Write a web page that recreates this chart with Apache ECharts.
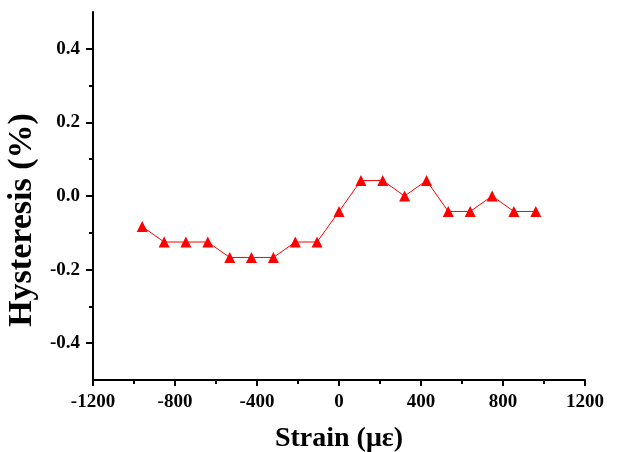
<!DOCTYPE html>
<html>
<head>
<meta charset="utf-8">
<script src="https://cdn.jsdelivr.net/npm/echarts@6/dist/echarts.min.js"></script>
<style>
  html, body { margin: 0; padding: 0; background: #fff; }
  #chart { width: 618px; height: 452px; }
</style>
</head>
<body>
<div id="chart"></div>
<script>
// Strain steps (με) and measured hysteresis (%)
const strain = [-960, -853, -747, -640, -533, -427, -320, -213, -107, 0,
                107, 213, 320, 427, 533, 640, 747, 853, 960];
const hysteresis = [-0.083, -0.125, -0.125, -0.125, -0.167, -0.167, -0.167, -0.125, -0.125, -0.042,
                    0.042, 0.042, 0.0, 0.042, -0.042, -0.042, 0.0, -0.042, -0.042];

const yMajor = [-0.4, -0.2, 0.0, 0.2, 0.4];
const yMinor = [-0.3, -0.1, 0.1, 0.3];
const xMajor = [-1200, -800, -400, 0, 400, 800, 1200];
const xMinor = [-1000, -600, -200, 200, 600, 1000];

const font = '"Liberation Serif", "Times New Roman", serif';
const axisCol = '#000';

const chart = echarts.init(document.getElementById('chart'), null, { renderer: 'canvas' });
chart.setOption({
  animation: false,
  backgroundColor: '#fff',
  grid: { left: 93, right: 33, top: 12, bottom: 72, containLabel: false, outerBoundsMode: 'none' },
  xAxis: [{
    type: 'value', min: -1200, max: 1200, interval: 400,
    name: 'Strain (με)', nameLocation: 'middle', nameGap: 45,
    nameTextStyle: { fontFamily: font, fontWeight: 'bold', fontSize: 28, color: '#000' },
    axisLine: { show: true, onZero: false, lineStyle: { color: axisCol, width: 2 } },
    axisTick: { show: true, inside: false, length: 6, lineStyle: { color: axisCol, width: 2 }, customValues: xMajor },
    axisLabel: { show: true, margin: 13, fontFamily: font, fontWeight: 'bold', fontSize: 19, color: '#000',
                 customValues: xMajor, showMinLabel: true, showMaxLabel: true, formatter: v => String(v) },
    splitLine: { show: false }
  }, {
    type: 'value', min: -1200, max: 1200, interval: 200, position: 'bottom',
    axisLine: { show: false, onZero: false },
    axisTick: { show: true, length: 4, lineStyle: { color: axisCol, width: 2 }, customValues: xMinor },
    axisLabel: { show: false },
    splitLine: { show: false }
  }],
  yAxis: [{
    type: 'value', min: -0.5, max: 0.5, interval: 0.1,
    name: 'Hysteresis (%)', nameLocation: 'middle', nameGap: 47,
    nameTextStyle: { fontFamily: font, fontWeight: 'bold', fontSize: 34, color: '#000', padding: [0, 48, 0, 0] },
    axisLine: { show: true, onZero: false, lineStyle: { color: axisCol, width: 2 } },
    axisTick: { show: true, length: 7, lineStyle: { color: axisCol, width: 2 }, customValues: yMajor },
    axisLabel: { show: true, margin: 13, fontFamily: font, fontWeight: 'bold', fontSize: 19, color: '#000',
                 customValues: yMajor, formatter: v => v.toFixed(1) },
    splitLine: { show: false }
  }, {
    type: 'value', min: -0.5, max: 0.5, interval: 0.1, position: 'left',
    axisLine: { show: false, onZero: false },
    axisTick: { show: true, length: 4, lineStyle: { color: axisCol, width: 2 }, customValues: yMinor },
    axisLabel: { show: false },
    splitLine: { show: false }
  }],
  series: [{
    type: 'line',
    data: strain.map((s, i) => [s, hysteresis[i]]),
    symbol: 'triangle', symbolSize: 11,
    itemStyle: { color: '#ff0000' },
    lineStyle: { color: '#ff0000', width: 1 },
    emphasis: { disabled: true }
  }]
});
</script>
</body>
</html>
